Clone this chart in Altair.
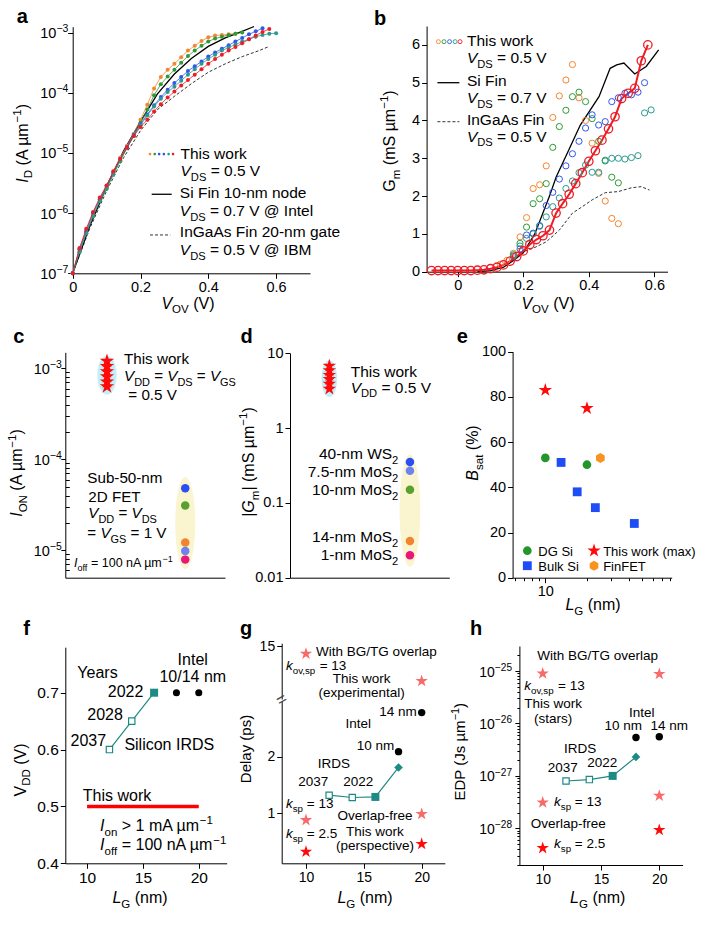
import math
import altair as alt
import pandas as pd

FONT = "Liberation Sans"
W, H = 710, 926

ORANGE = "#f5852e"; GREEN = "#2f9a37"; BLUE = "#2f56ee"; TEAL = "#2a9a8f"; RED = "#ee1c25"
IRDSC = "#1d8a84"; PINK = "#f76a6a"; SRED = "#ff0a0a"
C_BLUE = "#2b4ff2"; C_LBLUE = "#6e82f2"; C_GREEN = "#5aa02c"; C_ORANGE = "#f3842f"; C_MAG = "#e8177b"
CYAN = "#c3f0f8"; CREAM = "#faf4cf"

# ---------------- DATA ----------------
# a: log10(I_D) versus V_OV
a_vov = [0.00, 0.02, 0.04, 0.06, 0.08, 0.10, 0.12, 0.14, 0.16, 0.18, 0.20, 0.22, 0.24, 0.26, 0.28, 0.30,
         0.32, 0.34, 0.36, 0.38, 0.40, 0.42, 0.44, 0.46, 0.48, 0.50, 0.52, 0.54, 0.56, 0.58, 0.60]
a_orange = [-7.0, -6.6, -6.28, -6.0, -5.76, -5.54, -5.3, -5.08, -4.88, -4.68,
            -4.45, -4.2, -3.93, -3.74, -3.62, -3.52, -3.41, -3.3, -3.22, -3.14, -3.08, -3.05, -3.04, -3.03, -3.02]
a_green = [-7.0, -6.64, -6.33, -6.05, -5.8, -5.6, -5.36, -5.14, -4.92, -4.72,
           -4.5, -4.28, -4.04, -3.86, -3.73, -3.62, -3.5, -3.39, -3.3, -3.22, -3.15, -3.1, -3.07, -3.04, -3.02, -3.0]
a_blue = [-7.0, -6.6, -6.3, -6.0, -5.77, -5.55, -5.32, -5.1, -4.9, -4.7,
          -4.52, -4.36, -4.21, -4.07, -3.95, -3.84, -3.74, -3.64, -3.56, -3.48, -3.4, -3.33, -3.27, -3.21,
          -3.15, -3.09, -3.03, -2.98, -2.93]
a_teal = [-7.0, -6.65, -6.34, -6.05, -5.8, -5.58, -5.35, -5.12, -4.92, -4.72,
          -4.54, -4.38, -4.23, -4.1, -3.99, -3.9, -3.8, -3.7, -3.61, -3.52, -3.44, -3.37, -3.3, -3.25,
          -3.2, -3.15, -3.11, -3.07, -3.04, -3.02, -3.01]
a_red = [-7.0, -6.58, -6.26, -5.98, -5.74, -5.54, -5.31, -5.1, -4.91, -4.72,
         -4.57, -4.45, -4.31, -4.19, -4.08, -3.98, -3.88, -3.79, -3.7, -3.61, -3.52, -3.44, -3.37, -3.3,
         -3.24, -3.18, -3.11, -3.05, -2.99, -2.94]
a_si_v = [0.0, 0.05, 0.10, 0.15, 0.20, 0.25, 0.30, 0.35, 0.40, 0.45, 0.50, 0.535]
a_si_log = [-7.0, -6.22, -5.56, -4.97, -4.48, -4.02, -3.69, -3.43, -3.23, -3.09, -2.98, -2.9]
a_in_v = [0.0, 0.05, 0.10, 0.15, 0.20, 0.25, 0.30, 0.35, 0.40, 0.45, 0.50, 0.55, 0.58]
a_in_log = [-7.0, -6.26, -5.63, -5.08, -4.63, -4.28, -4.06, -3.85, -3.66, -3.52, -3.4, -3.3, -3.23]

# b: Gm versus V_OV
b_vov = [-0.08, -0.06, -0.04, -0.02, 0.0, 0.02, 0.04, 0.06, 0.08, 0.10, 0.12, 0.14, 0.16, 0.18, 0.20, 0.22,
         0.24, 0.26, 0.28, 0.30, 0.32, 0.34, 0.36, 0.38, 0.40, 0.42, 0.44, 0.46, 0.48, 0.50, 0.52, 0.54, 0.56, 0.58]
b_red = [0.03, 0.03, 0.03, 0.03, 0.03, 0.03, 0.03, 0.04, 0.05, 0.08, 0.12, 0.18, 0.28, 0.40, 0.55, 0.72,
         0.85, 0.95, 1.10, 1.55, 1.80, 2.05, 2.33, 2.62, 2.92, 3.20, 3.48, 3.78, 4.10, 4.58, 4.72, 4.85, 5.58, 6.00]
b_orange_v = [0.13, 0.15, 0.17, 0.19, 0.21, 0.23, 0.25, 0.27, 0.29, 0.31, 0.33, 0.35, 0.37, 0.39, 0.41, 0.43, 0.45, 0.47, 0.49]
b_orange_g = [0.2, 0.3, 0.49, 0.92, 1.43, 2.2, 2.3, 2.8, 4.08, 4.65, 5.07, 5.48, 4.6, 4.0, 3.4, 2.6, 1.87, 1.41, 1.27]
b_green_v = [0.17, 0.19, 0.21, 0.23, 0.25, 0.27, 0.29, 0.31, 0.33, 0.35, 0.37, 0.39, 0.41, 0.43, 0.45, 0.47, 0.49]
b_green_g = [0.45, 0.75, 1.18, 1.8, 1.93, 2.33, 3.29, 3.84, 4.27, 4.63, 4.75, 4.5, 4.05, 3.45, 2.93, 2.5, 2.35]
b_blue_v = [0.17, 0.19, 0.21, 0.23, 0.25, 0.27, 0.29, 0.31, 0.33, 0.35, 0.37, 0.39, 0.41, 0.43, 0.45, 0.47,
            0.49, 0.51, 0.53, 0.55, 0.57]
b_blue_g = [0.4, 0.6, 0.97, 1.02, 1.22, 1.75, 2.1, 2.45, 2.8, 3.12, 3.45, 3.8, 4.15, 3.88, 3.97, 4.5,
            4.6, 4.72, 4.68, 4.75, 5.0]
b_teal_v = [0.17, 0.19, 0.21, 0.23, 0.25, 0.27, 0.29, 0.31, 0.33, 0.35, 0.37, 0.39, 0.41, 0.43, 0.45, 0.47,
            0.49, 0.51, 0.53, 0.55, 0.57, 0.59]
b_teal_g = [0.42, 0.68, 0.88, 1.0, 1.2, 1.45, 1.72, 1.95, 2.2, 2.4, 2.62, 2.82, 2.63, 2.63, 2.95, 3.0,
            3.0, 2.98, 3.02, 3.07, 4.2, 4.28]
b_si_v = [0.06, 0.10, 0.14, 0.17, 0.20, 0.235, 0.28, 0.30, 0.343, 0.374, 0.431, 0.465, 0.485, 0.507, 0.54, 0.575, 0.613]
b_si_g = [0.0, 0.03, 0.12, 0.3, 0.5, 1.0, 2.0, 2.5, 3.3, 3.88, 4.63, 5.38, 5.47, 5.52, 5.23, 5.43, 5.87]
b_in_v = [0.19, 0.23, 0.27, 0.31, 0.35, 0.38, 0.41, 0.45, 0.49, 0.53, 0.56, 0.585]
b_in_g = [0.5, 0.62, 0.79, 1.1, 1.55, 1.72, 1.9, 2.09, 2.12, 2.22, 2.25, 2.16]

# c: I_ON
c_star_ion = [1.2e-3, 1.05e-3, 9.2e-4, 8.1e-4, 7.1e-4, 6.3e-4]
c_2d_ion = [4.8e-5, 3.1e-5, 1.22e-5, 9.8e-6, 7.9e-6]
c_2d_col = [C_BLUE, C_GREEN, C_ORANGE, C_LBLUE, C_MAG]
# d: |Gm|
d_star_gm = [6.8, 5.9, 5.1, 4.5, 3.9, 3.35]
d_2d_gm = [0.352, 0.27, 0.15, 0.031, 0.02]
d_2d_col = [C_BLUE, C_LBLUE, C_GREEN, C_ORANGE, C_MAG]
d_2d_lab = ["40-nm WS_{2}", "7.5-nm MoS_{2}", "10-nm MoS_{2}", "14-nm MoS_{2}", "1-nm MoS_{2}"]
# e: B_sat
e_star_lg = [10, 20]; e_star_b = [83, 75]
e_dg_lg = [10, 20]; e_dg_b = [53, 50]
e_bulk_lg = [13, 17, 23, 44]; e_bulk_b = [51, 38, 31, 24]
e_fin_lg = [25]; e_fin_b = [53]
# f: VDD
f_irds_lg = [12, 14, 16]; f_irds_v = [0.60, 0.65, 0.70]
f_intel_lg = [18, 20]; f_intel_v = [0.70, 0.70]
f_this_lg = [10, 20]; f_this_v = [0.5, 0.5]
# g: delay
g_irds_lg = [12, 14, 16, 18]; g_irds_d = [1.32, 1.28, 1.29, 1.81]
g_intel_lg = [18, 20]; g_intel_d = [2.09, 2.78]
g_ov_lg = [10, 20]; g_ov_d = [14.5, 12.7]
g_k13_lg = [10, 20]; g_k13_d = [0.88, 0.99]
g_k25_lg = [10, 20]; g_k25_d = [0.32, 0.46]
# h: EDP
h_irds_lg = [12, 14, 16, 18]; h_irds_e = [8.0e-28, 8.5e-28, 1.0e-27, 2.3e-27]
h_intel_lg = [18, 20]; h_intel_e = [5.4e-27, 5.6e-27]
h_ov_lg = [10, 20]; h_ov_e = [9.0e-26, 8.8e-26]
h_k13_lg = [10, 20]; h_k13_e = [3.1e-28, 4.2e-28]
h_k25_lg = [10, 20]; h_k25_e = [4.2e-29, 9.3e-29]

# ---------------- helpers ----------------
STAR = ("M0,-1L0.2245,-0.309L0.951,-0.309L0.363,0.118L0.588,0.809L0,0.382L-0.588,0.809"
        "L-0.363,0.118L-0.951,-0.309L-0.2245,-0.309Z")
HEX = "M0,-1L0.866,-0.5L0.866,0.5L0,1L-0.866,0.5L-0.866,-0.5Z"


def ellipse(k):
    return f"M{-k},0A{k},1 0 1,0 {k},0A{k},1 0 1,0 {-k},0Z"


CW = {' ': 278, '!': 278, '%': 889, '(': 333, ')': 333, ',': 278, '-': 333, '.': 278, '/': 278, ':': 278,
      '=': 584, '>': 584, '<': 584, '@': 1015, '|': 260, 'µ': 576, '−': 584, '+': 584}
for ch in '0123456789':
    CW[ch] = 556
CW.update(dict(A=667, B=667, C=722, D=722, E=667, F=611, G=778, H=722, I=278, J=500, K=667, L=556, M=833,
               N=722, O=778, P=667, Q=778, R=722, S=667, T=611, U=722, V=667, W=944, X=667, Y=667, Z=611))
CW.update(dict(a=556, b=556, c=500, d=556, e=556, f=278, g=556, h=556, i=222, j=222, k=500, l=222, m=833,
               n=556, o=556, p=556, q=556, r=333, s=500, t=278, u=556, v=500, w=722, x=500, y=500, z=500))


def tw(s, fs):
    return sum(CW.get(c, 556) for c in s) * fs / 1000.0


def parse(m):
    segs, buf, it, i = [], '', False, 0
    while i < len(m):
        c = m[i]
        if c == '*':
            if buf:
                segs.append((buf, it, 'n')); buf = ''
            it = not it; i += 1
        elif c in '_^' and i + 1 < len(m) and m[i + 1] == '{':
            if buf:
                segs.append((buf, it, 'n')); buf = ''
            j = m.index('}', i)
            segs.append((m[i + 2:j], False, 'sub' if c == '_' else 'sup'))
            i = j + 1
        else:
            buf += c; i += 1
    if buf:
        segs.append((buf, it, 'n'))
    return segs


class Panel:
    def __init__(self, xd, xr, yd, yr, xlog=False, ylog=False):
        self.xd, self.xr, self.yd, self.yr = xd, xr, yd, yr
        self.xlog, self.ylog = xlog, ylog
        self.layers, self.texts = [], []
        self.xaxis = None
        self.yaxis = None

    @staticmethod
    def _f(v, d, r, lg):
        if lg:
            t = (math.log10(v) - math.log10(d[0])) / (math.log10(d[1]) - math.log10(d[0]))
        else:
            t = (v - d[0]) / (d[1] - d[0])
        return r[0] + t * (r[1] - r[0])

    @staticmethod
    def _i(p, d, r, lg):
        t = (p - r[0]) / (r[1] - r[0])
        if lg:
            return 10 ** (math.log10(d[0]) + t * (math.log10(d[1]) - math.log10(d[0])))
        return d[0] + t * (d[1] - d[0])

    def px(self, v): return self._f(v, self.xd, self.xr, self.xlog)
    def py(self, v): return self._f(v, self.yd, self.yr, self.ylog)
    def ix(self, p): return self._i(p, self.xd, self.xr, self.xlog)
    def iy(self, p): return self._i(p, self.yd, self.yr, self.ylog)

    def scale(self, d, r, lg):
        if lg:
            return alt.Scale(type='log', domain=list(d), range=list(r), nice=False)
        return alt.Scale(type='linear', domain=list(d), range=list(r), nice=False, zero=False)

    def enc(self, **kw):
        e = dict(x=alt.X('x:Q', scale=self.scale(self.xd, self.xr, self.xlog), axis=self.xaxis),
                 y=alt.Y('y:Q', scale=self.scale(self.yd, self.yr, self.ylog), axis=self.yaxis))
        e.update(kw)
        return e

    def mk(self, kind, xs, ys, colors=None, **kw):
        df = pd.DataFrame({'x': list(xs), 'y': list(ys)})
        e = self.enc()
        if colors is not None:
            df['c'] = list(colors)
            e['color'] = alt.Color('c:N', scale=None)
        self.layers.append(getattr(alt.Chart(df), 'mark_' + kind)(**kw).encode(**e))

    def rich(self, px, py, m, fs=15.5, align='left', angle=0, color='black', bold=False):
        items, adv = [], 0.0
        for t, it, kind in parse(m):
            s = fs * 0.72 if kind != 'n' else fs
            dy = 0.3 * fs if kind == 'sub' else (-0.42 * fs if kind == 'sup' else 0.0)
            items.append((t, it, s, adv, dy))
            adv += tw(t, s)
        start = {'left': 0.0, 'center': -adv / 2, 'right': -adv}[align]
        for t, it, s, off, dy in items:
            ls = len(t) - len(t.lstrip(' '))
            t2 = t.strip(' ')
            if not t2:
                continue
            o = start + off + tw(' ' * ls, s)
            if angle == 0:
                fx, fy = px + o, py + dy
            else:
                fx, fy = px + dy, py - o
            self.texts.append(dict(x=self.ix(fx), y=self.iy(fy), t=t2, s=round(s, 2), a=angle, c=color,
                                   st=('b' if bold else ('i' if it else 'n'))))

    def note(self, x, y, m, **kw):
        self.rich(self.px(x), self.py(y), m, **kw)

    def chart(self):
        layers = list(self.layers)
        if self.texts:
            df = pd.DataFrame(self.texts)
            for st, kw in [('n', {}), ('i', {'fontStyle': 'italic'}), ('b', {'fontWeight': 'bold'})]:
                sub = df[df.st == st]
                if len(sub) == 0:
                    continue
                layers.append(alt.Chart(sub).mark_text(align='left', baseline='alphabetic', font=FONT, **kw).encode(
                    **self.enc(text='t:N', size=alt.Size('s:Q', scale=None), angle=alt.Angle('a:Q', scale=None),
                               color=alt.Color('c:N', scale=None))))
        return alt.layer(*layers)


def xax(p, values, labels=True, expr="format(datum.value, '~g')", ticks=True, tick=5, domain=True, fs=14.5):
    kw = dict(orient='bottom', offset=p.yr[0] - H, values=values, title=None, labels=labels, ticks=ticks,
              tickSize=tick, domain=domain, labelFlush=False, labelOverlap=False, labelPadding=2,
              labelFontSize=fs, grid=False)
    if labels and expr:
        kw['labelExpr'] = expr
    return alt.Axis(**kw)


def yax(p, values, labels=True, expr="format(datum.value, '~g')", tick=5, domain=True, fs=14.5, orient='left'):
    off = -p.xr[0] if orient == 'left' else p.xr[0] - W
    kw = dict(orient=orient, offset=off, values=values, title=None, labels=labels, tickSize=tick,
              domain=domain, labelFlush=False, labelOverlap=False, labelPadding=2, labelFontSize=fs, grid=False)
    if labels and expr:
        kw['labelExpr'] = expr
    return alt.Axis(**kw)


def pow_labels(p, exps, right, fs=14.5):
    for e in exps:
        p.rich(right, p.py(10.0 ** e) + 5.5, "10^{−" + str(-e) + "}", fs=fs, align='right')


panels = []

# ---------------- panel a ----------------
A = Panel((0, 0.7), (72.7, 310), (1e-7, 1.25e-3), (273.3, 26.7), ylog=True)
A.xaxis = xax(A, [0, 0.2, 0.4, 0.6])
A.yaxis = yax(A, [1e-7, 1e-6, 1e-5, 1e-4, 1e-3], labels=False)
A.mk('line', a_in_v, [10 ** v for v in a_in_log], color='#333333', strokeWidth=1, strokeDash=[3, 2])
A.mk('line', a_si_v, [10 ** v for v in a_si_log], color='black', strokeWidth=1.3)
for ser, col in [(a_orange, ORANGE), (a_green, GREEN), (a_blue, BLUE), (a_teal, TEAL), (a_red, RED)]:
    A.mk('line', a_vov[:len(ser)], [10 ** v for v in ser], color=col, strokeWidth=0.8)
    A.mk('circle', a_vov[:len(ser)], [10 ** v for v in ser], color=col, size=16, opacity=1)
A.mk('circle', [0.228, 0.242, 0.255, 0.269, 0.283, 0.296], [10 ** -5.02] * 6,
     colors=[ORANGE, GREEN, BLUE, BLUE, TEAL, RED], size=7, opacity=1)
A.mk('line', [0.233, 0.292], [10 ** -5.687] * 2, color='black', strokeWidth=1.3)
A.mk('line', [0.228, 0.288], [10 ** -6.363] * 2, color='#333333', strokeWidth=1, strokeDash=[3, 2])
A.note(0.318, 10 ** -5.105, "This work")
A.note(0.318, 10 ** -5.391, "*V*_{DS} = 0.5 V")
A.note(0.316, 10 ** -5.748, "Si Fin 10-nm node")
A.note(0.316, 10 ** -6.047, "*V*_{DS} = 0.7 V @ Intel")
A.note(0.316, 10 ** -6.401, "InGaAs Fin 20-nm gate")
A.note(0.316, 10 ** -6.696, "*V*_{DS} = 0.5 V @ IBM")
pow_labels(A, [-7, -6, -5, -4, -3], 68.3)
A.rich(27.5, 143.3, "*I*_{D} (A µm^{−1})", fs=16, align='center', angle=270)
A.rich(188, 308.5, "*V*_{OV} (V)", fs=16, align='center')
A.rich(16.7, 22.7, "a", fs=20, bold=True)
panels.append(A)

# ---------------- panel b ----------------
B = Panel((-0.095, 0.64), (426.6, 667.5), (0, 6.5), (271.7, 26.0))
B.xaxis = xax(B, [0, 0.2, 0.4, 0.6])
B.yaxis = yax(B, [0, 1, 2, 3, 4, 5, 6])
B.mk('line', b_in_v, b_in_g, color='#333333', strokeWidth=1, strokeDash=[3, 2])
B.mk('line', b_si_v, b_si_g, color='black', strokeWidth=1.3)
B.mk('line', b_vov, b_red, color=RED, strokeWidth=2)
for vv, gg, col in [(b_orange_v, b_orange_g, ORANGE), (b_green_v, b_green_g, GREEN),
                    (b_blue_v, b_blue_g, BLUE), (b_teal_v, b_teal_g, TEAL)]:
    B.mk('point', vv, gg, color=col, size=38, strokeWidth=1, filled=False, opacity=1)
B.mk('point', b_vov, b_red, color=RED, size=70, strokeWidth=1.3, filled=False, opacity=1)
B.mk('point', [-0.059, -0.042, -0.025, -0.008, 0.007], [6.085] * 5,
     colors=[ORANGE, GREEN, BLUE, TEAL, RED], size=16, strokeWidth=0.9, filled=False, opacity=1)
B.mk('line', [-0.062, 0.005], [5.0, 5.0], color='black', strokeWidth=1.3)
B.mk('line', [-0.062, 0.005], [3.968, 3.968], color='#333333', strokeWidth=1, strokeDash=[3, 2])
B.note(0.028, 5.962, "This work")
B.note(0.028, 5.524, "*V*_{DS} = 0.5 V")
B.note(0.028, 4.905, "Si Fin")
B.note(0.028, 4.465, "*V*_{DS} = 0.7 V")
B.note(0.028, 3.880, "InGaAs Fin")
B.note(0.028, 3.440, "*V*_{DS} = 0.5 V")
B.rich(395, 141, "G_{m} (mS µm^{−1})", fs=16, align='center', angle=270)
B.rich(548, 308.5, "*V*_{OV} (V)", fs=16, align='center')
B.rich(374, 25, "b", fs=20, bold=True)
panels.append(B)

# ---------------- panel c ----------------
C = Panel((0, 1), (65.3, 225), (5e-6, 1.5e-3), (577.7, 352.3), ylog=True)
C.xaxis = xax(C, [0.5], labels=False, ticks=False, tick=0)
C.yaxis = yax(C, [1e-5, 1e-4, 1e-3], labels=False, tick=4.5)
C.mk('point', [0.261], [8.4e-4], shape=ellipse(0.495), size=1521, filled=True, color=CYAN, opacity=1, strokeWidth=0)
C.mk('point', [0.751], [2.0e-5], shape=ellipse(0.217), size=8464, filled=True, color=CREAM, opacity=1, strokeWidth=0)
C.mk('point', [0.261] * len(c_star_ion), c_star_ion, shape=STAR, size=230, filled=True, color=SRED, opacity=1)
C.mk('circle', [0.751] * len(c_2d_ion), c_2d_ion, colors=c_2d_col, size=72, opacity=1)
C.note(0.3676, 10 ** -2.950, "This work", fs=15.2)
C.note(0.3676, 10 ** -3.140, "*V*_{DD} = *V*_{DS} = *V*_{GS}", fs=15.2)
C.note(0.3945, 10 ** -3.352, "= 0.5 V", fs=15.2)
C.note(0.1378, 10 ** -4.260, "Sub-50-nm", fs=15.2)
C.note(0.144, 10 ** -4.470, "2D FET", fs=15.2)
C.note(0.144, 10 ** -4.650, "*V*_{DD} = *V*_{DS}", fs=15.2)
C.note(0.1378, 10 ** -4.868, "= *V*_{GS} = 1 V", fs=15.2)
C.note(0.0545, 10 ** -5.184, "*I*_{off} = 100 nA µm^{−1}", fs=12.5)
pow_labels(C, [-5, -4, -3], 61.7)
C.rich(22.3, 473, "*I*_{ON} (A µm^{−1})", fs=16, align='center', angle=270)
C.rich(13.3, 343, "c", fs=20, bold=True)
panels.append(C)

CM = Panel(C.xd, C.xr, C.yd, C.yr, ylog=True)
CM.yaxis = yax(CM, [6e-6, 7e-6, 8e-6, 9e-6, 2e-5, 3e-5, 4e-5, 5e-5, 6e-5, 7e-5, 8e-5, 9e-5,
                    2e-4, 3e-4, 4e-4, 5e-4, 6e-4, 7e-4, 8e-4, 9e-4], labels=False, tick=4, domain=False, orient='right')
CM.mk('point', [0.5], [1e-4], opacity=0)
panels.append(CM)

# ---------------- panel d ----------------
D = Panel((0, 1), (290, 449.3), (0.01, 10), (577.7, 353.3), ylog=True)
D.xaxis = xax(D, [0.5], labels=False, ticks=False, tick=0)
D.yaxis = yax(D, [0.01, 0.1, 1, 10])
D.mk('point', [0.247], [4.6], shape=ellipse(0.42), size=1391, filled=True, color=CYAN, opacity=1, strokeWidth=0)
D.mk('point', [0.753], [0.0785], shape=ellipse(0.184), size=12611, filled=True, color=CREAM, opacity=1, strokeWidth=0)
D.mk('point', [0.247] * len(d_star_gm), d_star_gm, shape=STAR, size=200, filled=True, color=SRED, opacity=1)
D.mk('circle', [0.753] * len(d_2d_gm), d_2d_gm, colors=d_2d_col, size=72, opacity=1)
D.note(0.381, 10 ** 0.688, "This work")
D.note(0.381, 10 ** 0.475, "*V*_{DD} = 0.5 V")
for lab, ly in zip(d_2d_lab, [-0.413, -0.653, -0.899, -1.525, -1.765]):
    D.note(0.68, 10 ** ly, lab, align='right')
D.rich(254, 462, "|*G*_{m}| (mS µm^{−1})", fs=16, align='center', angle=270)
D.rich(240.5, 343, "d", fs=20, bold=True)
panels.append(D)

# ---------------- panel e ----------------
E = Panel((5.8, 82), (512.6, 671.7), (0, 100), (577.7, 351.7), xlog=True)
E.xaxis = xax(E, [10], expr="datum.value == 10 ? '10' : ''")
E.yaxis = yax(E, [0, 20, 40, 60, 80, 100])
E.mk('point', e_star_lg, e_star_b, shape=STAR, size=200, filled=True, color=SRED, opacity=1)
E.mk('circle', e_dg_lg, e_dg_b, color='#22962a', size=75, opacity=1)
E.mk('square', e_bulk_lg, e_bulk_b, color='#1f4df5', size=78, opacity=1)
E.mk('point', e_fin_lg, e_fin_b, shape=HEX, size=100, filled=True, color='#f7931e', opacity=1)
E.mk('circle', [7.41], [11.95], color='#22962a', size=75, opacity=1)
E.mk('point', [22.5], [11.95], shape=STAR, size=200, filled=True, color=SRED, opacity=1)
E.mk('square', [7.41], [5.31], color='#1f4df5', size=78, opacity=1)
E.mk('point', [22.5], [5.31], shape=HEX, size=100, filled=True, color='#f7931e', opacity=1)
E.note(8.9, 9.73, "DG Si", fs=13)
E.note(26.2, 9.73, "This work (max)", fs=13)
E.note(8.9, 3.1, "Bulk Si", fs=13)
E.note(26.2, 3.1, "FinFET", fs=13)
E.rich(478, 453, "*B*_{sat} (%)", fs=16, align='center', angle=270)
E.rich(593, 610, "*L*_{G} (nm)", fs=16, align='center')
E.rich(456.7, 343, "e", fs=20, bold=True)
panels.append(E)

EM = Panel(E.xd, E.xr, E.yd, E.yr, xlog=True)
EM.xaxis = xax(EM, [6, 7, 8, 9, 20, 30, 40, 50, 60, 70, 80], labels=False, tick=3, domain=False)
EM.mk('point', [10], [50], opacity=0)
panels.append(EM)

# ---------------- panel f ----------------
F = Panel((8.05, 22.5), (65.3, 226.7), (0.4, 0.78), (863.3, 647.2))
F.xaxis = xax(F, [10, 15, 20], fs=15.5)
F.yaxis = yax(F, [0.4, 0.5, 0.6, 0.7], fs=15.5)
F.mk('line', f_this_lg, f_this_v, color='#ff0000', strokeWidth=3.5)
F.mk('line', f_irds_lg, f_irds_v, color=IRDSC, strokeWidth=1.2)
F.mk('square', f_irds_lg[:2], f_irds_v[:2], fill='white', stroke=IRDSC, strokeWidth=1.2, size=40, opacity=1)
F.mk('square', f_irds_lg[2:], f_irds_v[2:], color=IRDSC, size=64, opacity=1)
F.mk('circle', f_intel_lg, f_intel_v, color='black', size=50, opacity=1)
F.note(19.46, 0.749, "Intel", fs=16, align='center')
F.note(19.46, 0.719, "10/14 nm", fs=16, align='center')
F.note(9.13, 0.726, "Years", fs=16)
F.note(15.04, 0.693, "2022", fs=16, align='right')
F.note(13.2, 0.652, "2028", fs=16, align='right')
F.note(11.7, 0.607, "2037", fs=16, align='right')
F.note(13.34, 0.599, "Silicon IRDS", fs=16)
F.note(9.62, 0.51, "This work", fs=16)
F.note(11.16, 0.457, "*I*_{on} > 1 mA µm^{−1}", fs=16)
F.note(11.16, 0.423, "*I*_{off} = 100 nA µm^{−1}", fs=16)
F.rich(25.5, 770, "V_{DD} (V)", fs=16, align='center', angle=270)
F.rich(140, 903, "*L*_{G} (nm)", fs=16, align='center')
F.rich(23.3, 635, "f", fs=20, bold=True)
panels.append(F)

# ---------------- panel g ----------------
GL = Panel((7.9, 22), (281.7, 444.8), (0.117, 2.985), (863.3, 701))
GL.xaxis = xax(GL, [10, 15, 20], fs=14)
GL.yaxis = yax(GL, [1, 2], fs=14)
GL.mk('line', g_irds_lg, g_irds_d, color=IRDSC, strokeWidth=1.2)
GL.mk('square', g_irds_lg[:2], g_irds_d[:2], fill='white', stroke=IRDSC, strokeWidth=1.2, size=40, opacity=1)
GL.mk('square', g_irds_lg[2:3], g_irds_d[2:3], color=IRDSC, size=64, opacity=1)
GL.mk('point', g_irds_lg[3:], g_irds_d[3:], shape='diamond', filled=True, color=IRDSC, size=75, opacity=1)
GL.mk('circle', g_intel_lg, g_intel_d, color='black', size=55, opacity=1)
GL.mk('point', g_k13_lg, g_k13_d, shape=STAR, size=170, filled=True, color=PINK, opacity=1)
GL.mk('point', g_k25_lg, g_k25_d, shape=STAR, size=170, filled=True, color=SRED, opacity=1)
GL.mk('text', [GL.ix(281.7)], [GL.iy(700)], text='=', angle=330, fontSize=17, align='center',
      baseline='middle', font=FONT, color='#444444')
GL.note(19.57, 2.72, "14 nm", fs=13.5, align='right')
GL.note(14.52, 2.5, "Intel", fs=13.5, align='center')
GL.note(17.63, 2.12, "10 nm", fs=13.5, align='right')
GL.note(12.42, 1.795, "IRDS", fs=13.5, align='center')
GL.note(10.63, 1.48, "2037", fs=13.5, align='center')
GL.note(14.52, 1.48, "2022", fs=13.5, align='center')
GL.note(8.27, 1.09, "*k*_{sp} = 13", fs=13.5)
GL.note(15.96, 0.88, "Overlap-free", fs=13.5, align='center')
GL.note(8.27, 0.57, "*k*_{sp} = 2.5", fs=13.5)
GL.note(15.96, 0.604, "This work", fs=13.5, align='center')
GL.note(15.96, 0.35, "(perspective)", fs=13.5, align='center')
GL.rich(250.5, 749, "Delay (ps)", fs=15, align='center', angle=270)
GL.rich(365, 903, "*L*_{G} (nm)", fs=16, align='center')
GL.rich(240, 635, "g", fs=20, bold=True)
panels.append(GL)

GU = Panel((7.9, 22), (281.7, 444.8), (11.513, 15.2), (699, 643.2))
GU.yaxis = yax(GU, [15], fs=14)
GU.mk('point', g_ov_lg, g_ov_d, shape=STAR, size=170, filled=True, color=PINK, opacity=1)
GU.note(10.86, 14.33, "With BG/TG overlap", fs=13.5)
GU.note(8.27, 13.44, "*k*_{ov,sp} = 13", fs=13.5)
GU.note(14.81, 12.56, "This work", fs=13.5, align='center')
GU.note(14.81, 11.67, "(experimental)", fs=13.5, align='center')
panels.append(GU)

# ---------------- panel h ----------------
Hp = Panel((8, 22), (519.4, 682.6), (2e-29, 3e-25), (865, 646), ylog=True)
Hp.xaxis = xax(Hp, [10, 15, 20], fs=14)
Hp.yaxis = yax(Hp, [1e-28, 1e-27, 1e-26, 1e-25], labels=False, tick=4.5)
Hp.mk('line', h_irds_lg, h_irds_e, color=IRDSC, strokeWidth=1.2)
Hp.mk('square', h_irds_lg[:2], h_irds_e[:2], fill='white', stroke=IRDSC, strokeWidth=1.2, size=40, opacity=1)
Hp.mk('square', h_irds_lg[2:3], h_irds_e[2:3], color=IRDSC, size=64, opacity=1)
Hp.mk('point', h_irds_lg[3:], h_irds_e[3:], shape='diamond', filled=True, color=IRDSC, size=75, opacity=1)
Hp.mk('circle', h_intel_lg, h_intel_e, color='black', size=55, opacity=1)
Hp.mk('point', h_ov_lg, h_ov_e, shape=STAR, size=170, filled=True, color=PINK, opacity=1)
Hp.mk('point', h_k13_lg, h_k13_e, shape=STAR, size=170, filled=True, color=PINK, opacity=1)
Hp.mk('point', h_k25_lg, h_k25_e, shape=STAR, size=170, filled=True, color=SRED, opacity=1)
Hp.note(14.72, 10 ** -24.79, "With BG/TG overlap", fs=13.5, align='center')
Hp.note(8.42, 10 ** -25.362, "*k*_{ov,sp} = 13", fs=13.5)
Hp.note(10.9, 10 ** -25.705, "This work", fs=13.5, align='center')
Hp.note(10.9, 10 ** -25.99, "(stars)", fs=13.5, align='center')
Hp.note(18.49, 10 ** -25.87, "Intel", fs=13.5, align='center')
Hp.note(16.91, 10 ** -26.125, "10 nm", fs=13.5, align='center')
Hp.note(20.86, 10 ** -26.125, "14 nm", fs=13.5, align='center')
Hp.note(13.2, 10 ** -26.57, "IRDS", fs=13.5, align='center')
Hp.note(11.72, 10 ** -26.92, "2037", fs=13.5, align='center')
Hp.note(15.11, 10 ** -26.825, "2022", fs=13.5, align='center')
Hp.note(10.97, 10 ** -27.569, "*k*_{sp} = 13", fs=13.5)
Hp.note(12.2, 10 ** -28.0, "Overlap-free", fs=13.5, align='center')
Hp.note(10.97, 10 ** -28.382, "*k*_{sp} = 2.5", fs=13.5)
pow_labels(Hp, [-28, -27, -26, -25], 512, fs=14)
Hp.rich(465, 751.7, "EDP (Js µm^{−1})", fs=15, align='center', angle=270)
Hp.rich(597.7, 903, "*L*_{G} (nm)", fs=16, align='center')
Hp.rich(470, 635, "h", fs=20, bold=True)
panels.append(Hp)

HM = Panel(Hp.xd, Hp.xr, Hp.yd, Hp.yr, ylog=True)
hminor = []
for dec in [-29, -28, -27, -26, -25]:
    for k in range(2, 10):
        v = k * 10.0 ** dec
        if 2e-29 <= v <= 3e-25:
            hminor.append(v)
HM.yaxis = yax(HM, hminor, labels=False, tick=2.5, domain=False)
HM.mk('point', [15], [1e-27], opacity=0)
panels.append(HM)

chart = alt.layer(*[p.chart() for p in panels]).resolve_scale(
    x='independent', y='independent').resolve_axis(x='independent', y='independent').properties(
    width=W, height=H, padding=0, background='white',
    autosize=alt.AutoSizeParams(type='none')).configure_view(stroke=None).configure_axis(
    domainColor='black', tickColor='black', labelColor='black', labelFont=FONT, domainWidth=1, tickWidth=1)

chart.save("out.html", embed_options={"renderer": "svg", "actions": False})
